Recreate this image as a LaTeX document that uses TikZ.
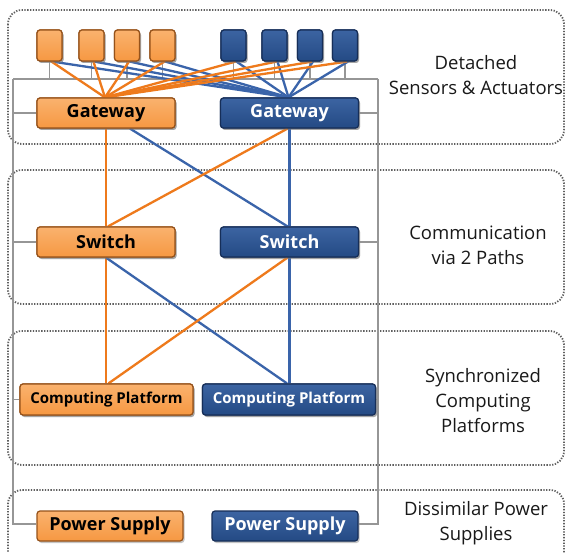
\documentclass[tikz,border=0pt]{standalone}
\usepackage{fontspec}
\setmainfont{Open Sans}
\usetikzlibrary{shadows,calc}
\definecolor{ofill}{RGB}{246,152,66}
\definecolor{ofilltop}{RGB}{250,178,110}
\definecolor{oborder}{RGB}{150,82,26}
\definecolor{bfill}{RGB}{36,74,132}
\definecolor{bfilltop}{RGB}{60,100,162}
\definecolor{bborder}{RGB}{22,46,88}
\definecolor{oline}{RGB}{238,122,28}
\definecolor{bline}{RGB}{58,100,170}
\definecolor{frame}{RGB}{150,150,150}
\definecolor{dots}{RGB}{95,95,95}
\definecolor{labeltext}{RGB}{25,25,25}
\tikzset{
  obox/.style={rectangle, rounded corners=3pt, draw=oborder, line width=1.2pt,
    top color=ofilltop, bottom color=ofill, text=black, inner sep=0pt,
    drop shadow={opacity=0.45, shadow xshift=1.5pt, shadow yshift=-2pt}},
  bbox/.style={rectangle, rounded corners=3pt, draw=bborder, line width=1.2pt,
    top color=bfilltop, bottom color=bfill, text=white, inner sep=0pt,
    drop shadow={opacity=0.45, shadow xshift=1.5pt, shadow yshift=-2pt}},
  sensor/.style={minimum width=25pt, minimum height=31pt},
  wide/.style={minimum width=138pt, minimum height=30pt, font=\fontsize{18}{20}\selectfont\bfseries},
  cpwide/.style={minimum width=173pt, minimum height=31pt, font=\fontsize{15}{17}\selectfont\bfseries},
  pswide/.style={minimum width=146pt, minimum height=30pt, font=\fontsize{18}{20}\selectfont\bfseries},
  olink/.style={draw=oline, line width=2.3pt},
  blink/.style={draw=bline, line width=2.3pt},
  grayline/.style={draw=frame, line width=1.7pt},
  zone/.style={draw=dots, line width=1.8pt, dash pattern=on 1.3pt off 1.5pt, rounded corners=14pt},
  zonelabel/.style={align=center, text=labeltext, font=\fontsize{18.5}{25}\selectfont},
}
\begin{document}
\begin{tikzpicture}[x=1pt,y=-1pt]
\useasboundingbox (0,0) rectangle (567,553);
\fill[white] (0,0) rectangle (567,553);

% dotted zones
\draw[zone] (8,10) rectangle (564,144);
\draw[zone] (8,170) rectangle (564,304);
\draw[zone] (8,331) rectangle (564,465);
\draw[zone] (8,560) -- (8,490) -- (564,490) -- (564,560);

% zone labels
\node[zonelabel] (l1) at (476,75) {Detached\\Sensors \& Actuators};
\node[zonelabel] (l2) at (478,245) {Communication\\via 2 Paths};
\node[zonelabel] (l3) at (483,401) {Synchronized\\Computing\\Platforms};
\node[zonelabel] (l4) at (476,523) {Dissimilar Power\\Supplies};

% sensors
\node[obox,sensor] (so1) at (49.5,45.5) {};
\node[obox,sensor] (so2) at (91.5,45.5) {};
\node[obox,sensor] (so3) at (127,45.5) {};
\node[obox,sensor] (so4) at (162.5,45.5) {};
\node[bbox,sensor] (sb1) at (233.5,45.5) {};
\node[bbox,sensor] (sb2) at (274.5,45.5) {};
\node[bbox,sensor] (sb3) at (310,45.5) {};
\node[bbox,sensor] (sb4) at (345,45.5) {};

% gray frame
\coordinate (tl) at (13,79);
\coordinate (tr) at (378,79);
\coordinate (bl) at (13,524);
\coordinate (br) at (378,524);
\draw[grayline] (tl) -- (tr);
\foreach \s in {so1,so2,so3,so4,sb1,sb2,sb3,sb4}{
  \draw[grayline] (\s.south) -- (\s.south |- tl);
}

% main nodes
\node[obox,wide] (gwo) at (106,113) {Gateway};
\node[bbox,wide] (gwb) at (289.5,113) {Gateway};
\node[obox,wide] (swo) at (106,242) {Switch};
\node[bbox,wide] (swb) at (289.5,242) {Switch};
\node[obox,cpwide] (cpo) at (106.5,399.5) {Computing Platform};
\node[bbox,cpwide] (cpb) at (289,399.5) {Computing Platform};
\node[obox,pswide] (pso) at (110,526) {Power Supply};
\node[bbox,pswide] (psb) at (285,526) {Power Supply};

% gray frame sides and stubs
\draw[grayline] (tl) -- (bl) -- (bl -| pso.west);
\draw[grayline] (tr) -- (br) -- (br -| psb.east);
\draw[grayline] (gwo.west -| tl) -- (gwo.west);
\draw[grayline] (gwb.east) -- (gwb.east -| tr);
\draw[grayline] (swo.west -| tl) -- (swo.west);
\draw[grayline] (swb.east) -- (swb.east -| tr);
\draw[grayline] (cpo.west -| tl) -- (cpo.west);
\draw[grayline] (cpb.east) -- (cpb.east -| tr);

% sensor links
\foreach \s in {so1,so2,so3,so4,sb1,sb2,sb3,sb4}{
  \draw[blink] ($(\s.south)+(3,0)$) -- ($(gwb.north)+(-1,0)$);
}
\foreach \s in {so1,so2,so3,so4,sb1,sb2,sb3,sb4}{
  \draw[olink] ($(\s.south)+(2,0)$) -- ($(gwo.north)+(-1,0)$);
}

% backbone links
\draw[olink] (gwo.south) -- (swo.north);
\draw[olink] (swo.south) -- (swo.south |- cpo.north);
\draw[blink] (gwb.south) -- (swb.north);
\draw[blink] (swb.south) -- (swb.south |- cpb.north);
\draw[blink] ($(gwo.south)+(24,0)$) -- ($(swb.north)+(-2,0)$);
\draw[olink] ($(gwb.south)+(-2,0)$) -- ($(swo.north)+(2,0)$);
\draw[blink] (swo.south) -- ($(cpb.north)+(-2,0)$);
\draw[olink] ($(swb.south)+(-2,0)$) -- ($(cpo.north)+(2,0)$);

% redraw nodes on top of links
\node[obox,wide] at (gwo) {Gateway};
\node[bbox,wide] at (gwb) {Gateway};
\node[obox,wide] at (swo) {Switch};
\node[bbox,wide] at (swb) {Switch};
\node[obox,cpwide] at (cpo) {Computing Platform};
\node[bbox,cpwide] at (cpb) {Computing Platform};
\foreach \s/\st in {so1/obox,so2/obox,so3/obox,so4/obox,sb1/bbox,sb2/bbox,sb3/bbox,sb4/bbox}{
  \node[\st,sensor] at (\s) {};
}
\end{tikzpicture}
\end{document}
